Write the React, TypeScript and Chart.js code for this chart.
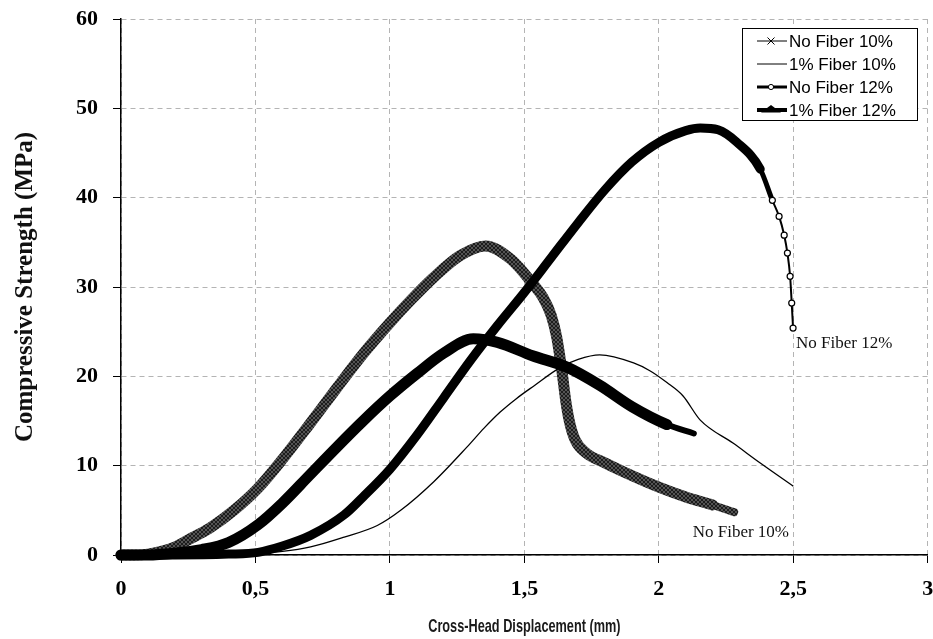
import React, { useEffect, useRef } from 'react';
import { Chart, registerables } from 'chart.js';

Chart.register(...registerables);

// ---- data ----
const seriesLabels = ['No Fiber 10%', '1% Fiber 10%', 'No Fiber 12%', '1% Fiber 12%'];

const xNoFiber10 = [0, 0.05, 0.1, 0.15, 0.2, 0.25, 0.33, 0.42, 0.51, 0.6, 0.7, 0.8, 0.9, 1.0, 1.08, 1.16, 1.26, 1.355, 1.45, 1.53, 1.57, 1.6, 1.62, 1.64, 1.655, 1.67, 1.69, 1.73, 1.8, 1.87, 2.0, 2.1, 2.2, 2.28];
const yNoFiber10 = [0, 0, 0.1, 0.4, 0.9, 1.7, 3.0, 5.0, 7.5, 10.7, 14.6, 18.6, 22.5, 26.0, 28.6, 31.0, 33.5, 34.6, 33.1, 30.4, 28.8, 26.8, 24.4, 20.5, 17.0, 14.6, 12.8, 11.4, 10.3, 9.3, 7.6, 6.5, 5.6, 4.8];

const xFiber10 = [0, 0.3, 0.5, 0.6, 0.705, 0.83, 0.953, 1.04, 1.163, 1.287, 1.35, 1.41, 1.47, 1.534, 1.634, 1.7, 1.78, 1.906, 1.968, 2.03, 2.09, 2.154, 2.277, 2.377, 2.5];
const yFiber10 = [0, 0, 0.2, 0.4, 0.9, 2.0, 3.3, 5.0, 8.2, 12.1, 14.2, 16.0, 17.5, 18.9, 21.0, 21.9, 22.4, 21.5, 20.6, 19.3, 17.8, 15.1, 12.5, 10.3, 7.7];

const xNoFiber12 = [0, 0.2, 0.4, 0.51, 0.6, 0.705, 0.83, 0.9, 1.0, 1.1, 1.2, 1.3, 1.4, 1.5, 1.6, 1.7, 1.8, 1.9, 2.0, 2.1, 2.154, 2.22, 2.29, 2.377, 2.422, 2.447, 2.466, 2.478, 2.488, 2.494, 2.499];
const yNoFiber12 = [0, 0, 0.1, 0.3, 1.0, 2.2, 4.5, 6.5, 9.6, 13.4, 17.6, 21.8, 25.7, 29.4, 33.3, 37.2, 40.9, 44.0, 46.2, 47.5, 47.8, 47.6, 46.2, 43.2, 39.7, 37.9, 35.8, 33.8, 31.2, 28.2, 25.4];

const xFiber12 = [0, 0.1, 0.2, 0.3, 0.4, 0.51, 0.6, 0.7, 0.8, 0.9, 1.0, 1.1, 1.2, 1.31, 1.4, 1.53, 1.66, 1.78, 1.9, 2.03, 2.13];
const yFiber12 = [0, 0, 0.2, 0.6, 1.4, 3.4, 5.8, 8.9, 12.0, 15.0, 17.8, 20.3, 22.6, 24.2, 23.8, 22.3, 21.0, 19.0, 16.6, 14.6, 13.6];

const xTickLabels = ['0', '0,5', '1', '1,5', '2', '2,5', '3'];
const yTickLabels = ['0', '10', '20', '30', '40', '50', '60'];

const annotationTexts = ['No Fiber 12%', 'No Fiber 10%'];
const annotationX = [2.51, 2.484];
const annotationY = [23.7, 2.46];
const annotationAlign = ['left', 'right'];

const xTitle = 'Cross-Head Displacement (mm)';
const yTitle = 'Compressive Strength (MPa)';

const toPoints = (xs: number[], ys: number[]) => xs.map((x, i) => ({ x, y: ys[i] }));

const legendLineWidths = [1, 1, 3, 4];

function drawLegendMarker(ctx: CanvasRenderingContext2D, i: number, cx: number, cy: number) {
  ctx.save();
  ctx.strokeStyle = '#000';
  ctx.fillStyle = '#000';
  if (i === 0) {
    ctx.lineWidth = 1;
    ctx.beginPath();
    ctx.moveTo(cx - 3.5, cy - 3.5);
    ctx.lineTo(cx + 3.5, cy + 3.5);
    ctx.moveTo(cx + 3.5, cy - 3.5);
    ctx.lineTo(cx - 3.5, cy + 3.5);
    ctx.stroke();
  } else if (i === 2) {
    ctx.lineWidth = 1;
    ctx.fillStyle = '#fff';
    ctx.beginPath();
    ctx.arc(cx, cy, 2.6, 0, Math.PI * 2);
    ctx.fill();
    ctx.stroke();
  } else if (i === 3) {
    ctx.beginPath();
    ctx.moveTo(cx - 10, cy + 2.5);
    ctx.lineTo(cx + 10, cy + 2.5);
    ctx.lineTo(cx, cy - 5);
    ctx.closePath();
    ctx.fill();
  }
  ctx.restore();
}

const boxLegendPlugin = {
  id: 'boxLegend',
  afterDraw(chart: any) {
    const { ctx, chartArea } = chart;
    const w = 175;
    const h = 92;
    const x0 = Math.round(chartArea.right - 11 - w);
    const y0 = Math.round(chartArea.top + 9);
    ctx.save();
    ctx.fillStyle = '#fff';
    ctx.fillRect(x0, y0, w, h);
    ctx.strokeStyle = '#000';
    ctx.lineWidth = 1;
    ctx.strokeRect(x0 + 0.5, y0 + 0.5, w, h);
    chart.data.datasets.forEach((ds: any, i: number) => {
      const y = y0 + 13 + i * 23;
      ctx.beginPath();
      ctx.moveTo(x0 + 15, y);
      ctx.lineTo(x0 + 45, y);
      ctx.lineWidth = legendLineWidths[i];
      ctx.strokeStyle = '#000';
      ctx.stroke();
      drawLegendMarker(ctx, i, x0 + 29, y);
      ctx.fillStyle = '#000';
      ctx.font = '17px "Liberation Sans", Arial, sans-serif';
      ctx.textBaseline = 'middle';
      ctx.textAlign = 'left';
      ctx.fillText(ds.label, x0 + 47, y + 1);
    });
    ctx.restore();
  },
};

const annotationPlugin = {
  id: 'curveNotes',
  afterDatasetsDraw(chart: any) {
    const { ctx, scales } = chart;
    ctx.save();
    ctx.fillStyle = '#111';
    ctx.font = '17px "Liberation Serif", "Times New Roman", serif';
    ctx.textBaseline = 'middle';
    annotationTexts.forEach((t, i) => {
      ctx.textAlign = annotationAlign[i] as CanvasTextAlign;
      ctx.fillText(t, scales.x.getPixelForValue(annotationX[i]), scales.y.getPixelForValue(annotationY[i]));
    });
    ctx.restore();
  },
};

// condensed bold x-axis title (the reference uses a narrow face)
const xTitlePlugin = {
  id: 'narrowXTitle',
  afterDraw(chart: any) {
    const { ctx, chartArea } = chart;
    const cx = (chartArea.left + chartArea.right) / 2;
    ctx.save();
    ctx.translate(cx, 627);
    ctx.scale(0.67, 1);
    ctx.fillStyle = '#1a1a1a';
    ctx.font = 'bold 19px "Liberation Sans", Arial, sans-serif';
    ctx.textAlign = 'center';
    ctx.textBaseline = 'middle';
    ctx.fillText(xTitle, 0, 0);
    ctx.restore();
  },
};

function makeCrossPattern(): CanvasPattern | string {
  const pc = document.createElement('canvas');
  pc.width = 4;
  pc.height = 4;
  const p = pc.getContext('2d');
  if (!p) return '#333';
  p.fillStyle = '#1c1c1c';
  p.fillRect(0, 0, 4, 4);
  p.strokeStyle = '#7a7a7a';
  p.lineWidth = 0.6;
  p.beginPath();
  p.moveTo(0, 0);
  p.lineTo(4, 4);
  p.moveTo(4, 0);
  p.lineTo(0, 4);
  p.stroke();
  const pat = p.createPattern(pc, 'repeat');
  return pat || '#333';
}

export default function App() {
  const canvasRef = useRef<HTMLCanvasElement | null>(null);

  useEffect(() => {
    document.body.style.margin = '0';
    const canvas = canvasRef.current;
    if (!canvas) return;

    const tickFont = { family: '"Liberation Serif", "Times New Roman", serif', size: 22, weight: 'bold' as const };
    const gridOpts = {
      color: '#b4b4b4',
      lineWidth: 1,
      borderDash: [5, 4],
      tickLength: 8,
      tickColor: '#000',
      tickBorderDash: [],
      tickWidth: 1,
    } as any;
    const borderOpts = { display: true, color: '#000', width: 1.5, dash: [5, 4] } as any;

    const chart = new Chart(canvas, {
      type: 'line',
      data: {
        datasets: [
          {
            label: seriesLabels[0],
            data: toPoints(xNoFiber10, yNoFiber10),
            borderColor: makeCrossPattern() as any,
            borderWidth: 11,
            pointRadius: 0,
            cubicInterpolationMode: 'monotone',
            borderCapStyle: 'round',
            borderJoinStyle: 'round',
            clip: false,
            order: 4,
            segment: {
              borderWidth: (c: any) => (c.p0.parsed.x >= 2.15 ? 8 : 11),
            },
          },
          {
            label: seriesLabels[1],
            data: toPoints(xFiber10, yFiber10),
            borderColor: '#000',
            borderWidth: 1.3,
            pointRadius: 0,
            cubicInterpolationMode: 'monotone',
            clip: false,
            order: 3,
          },
          {
            label: seriesLabels[2],
            data: toPoints(xNoFiber12, yNoFiber12),
            borderColor: '#000',
            borderWidth: 9,
            cubicInterpolationMode: 'monotone',
            borderCapStyle: 'round',
            borderJoinStyle: 'round',
            pointStyle: 'circle',
            pointRadius: (c: any) => (c.raw && c.raw.x >= 2.42 ? 3 : 0),
            pointBackgroundColor: '#fff',
            pointBorderColor: '#000',
            pointBorderWidth: 1.2,
            clip: false,
            order: 2,
            segment: {
              borderWidth: (c: any) => (c.p0.parsed.x >= 2.42 ? 2 : c.p0.parsed.x >= 2.35 ? 5 : 9),
            },
          },
          {
            label: seriesLabels[3],
            data: toPoints(xFiber12, yFiber12),
            borderColor: '#000',
            borderWidth: 11,
            pointRadius: 0,
            cubicInterpolationMode: 'monotone',
            borderCapStyle: 'round',
            borderJoinStyle: 'round',
            clip: false,
            order: 1,
            segment: {
              borderWidth: (c: any) => (c.p0.parsed.x >= 2.0 ? 6 : 11),
            },
          },
        ],
      },
      options: {
        responsive: false,
        animation: false,
        layout: { padding: { top: 19, right: 4, left: 0, bottom: 0 } },
        plugins: {
          legend: { display: false },
          tooltip: { enabled: false },
        },
        scales: {
          x: {
            type: 'linear',
            min: 0,
            max: 3,
            ticks: {
              stepSize: 0.5,
              autoSkip: false,
              maxRotation: 0,
              padding: 13,
              color: '#000',
              font: tickFont,
              callback: (_v: any, i: number) => xTickLabels[i],
            },
            grid: gridOpts,
            border: borderOpts,
            title: { display: false },
            afterFit: (s: any) => {
              s.height = 84;
              s.paddingLeft = 0;
              s.paddingRight = 0;
            },
          },
          y: {
            type: 'linear',
            min: 0,
            max: 60,
            ticks: {
              stepSize: 10,
              padding: 15,
              color: '#000',
              font: tickFont,
              callback: (_v: any, i: number) => yTickLabels[i],
            },
            grid: gridOpts,
            border: borderOpts,
            title: {
              display: true,
              text: yTitle,
              color: '#111',
              font: { family: '"Liberation Serif", "Times New Roman", serif', size: 25, weight: 'bold' },
              padding: { top: 11, bottom: 0 },
            },
            afterFit: (s: any) => {
              s.width = 121;
              s.paddingTop = 0;
              s.paddingBottom = 0;
            },
          },
        },
      },
      plugins: [annotationPlugin, boxLegendPlugin, xTitlePlugin],
    } as any);

    return () => chart.destroy();
  }, []);

  return (
    <div style={{ width: 933, height: 639 }}>
      <canvas ref={canvasRef} width={933} height={639} style={{ display: 'block' }} />
    </div>
  );
}
